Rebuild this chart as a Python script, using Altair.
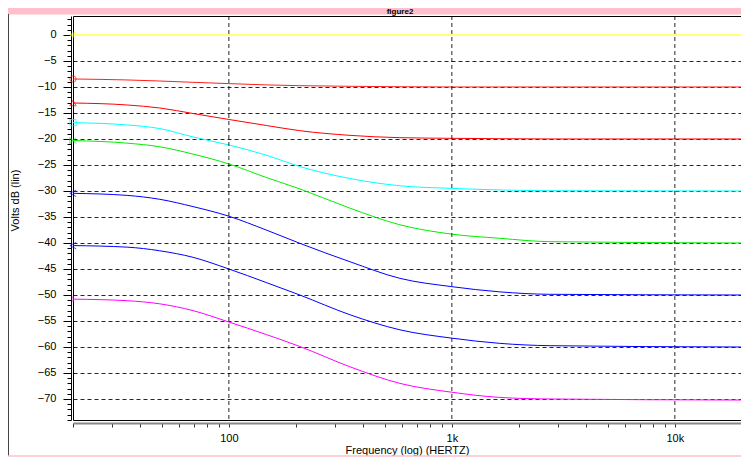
import altair as alt
import pandas as pd

# ---- data ----
freqs = [20, 35, 49, 69, 100, 147, 208, 349, 585, 1000, 1640, 2760, 19800]
yellow = [0, 0, 0, 0, 0, 0, 0, 0, 0, 0, 0, 0, 0]
red1 = [-8.46, -8.65, -8.85, -9.1, -9.35, -9.6, -9.75, -9.87, -9.95, -10.0, -10.0, -10.0, -10.0]
red2 = [-13.08, -13.46, -14.04, -15.1, -16.25, -17.4, -18.4, -19.3, -19.75, -19.87, -19.95, -20.0, -20.0]
cyan = [-16.86, -17.3, -18.0, -19.6, -21.15, -23.1, -25.3, -27.6, -29.0, -29.5, -29.8, -29.95, -30.0]
green = [-20.3, -20.8, -21.5, -22.9, -24.8, -27.4, -29.6, -33.3, -36.5, -38.3, -39.1, -39.75, -40.0]
blue1 = [-30.45, -30.85, -31.6, -33.0, -34.85, -37.5, -40.06, -43.6, -46.8, -48.4, -49.4, -49.87, -50.0]
blue2 = [-40.5, -40.8, -41.5, -42.75, -45.0, -47.6, -50.0, -53.8, -56.7, -58.3, -59.3, -59.75, -60.0]
magenta = [-50.8, -51.1, -51.7, -53.0, -55.2, -57.6, -59.9, -63.8, -67.0, -68.7, -69.7, -70.0, -70.2]

series_names = ["s1", "s2", "s3", "s4", "s5", "s6", "s7", "s8"]
series_values = [yellow, red1, red2, cyan, green, blue1, blue2, magenta]
series_colors = ["#FFFF00", "#FF2020", "#FF0000", "#00FFFF", "#00EE00", "#0000FF", "#0000FF", "#FF00FF"]
marker_shapes = [
    "M1,-1L-1,0L1,1",            # chevron
    "circle",
    "triangle-up",
    "square",
    "M-1,-1L1,1M1,-1L-1,1M-1,-1L-1,1",
    "M1,-1L-1,0L1,1",
    "M0,-1L0,1",
    "triangle-right",
]

x_ticks = [20, 30, 40, 50, 60, 70, 80, 90, 100, 200, 300, 400, 500, 600, 700, 800, 900,
           1000, 2000, 3000, 4000, 5000, 6000, 7000, 8000, 9000, 10000]
x_grid = [100, 1000, 10000]
y_ticks = list(range(-74, 4))

rows = []
for name, vals in zip(series_names, series_values):
    for f, v in zip(freqs, vals):
        rows.append({"series": name, "freq": f, "db": v})
df = pd.DataFrame(rows)

mk = pd.DataFrame({"series": series_names, "freq": [freqs[0]] * len(series_names),
                   "db": [v[0] for v in series_values], "shape": marker_shapes})

W, H = 668, 404
xscale = alt.Scale(type="log", domain=[20, 19800], nice=False)
yscale = alt.Scale(domain=[-74.04, 3.65], nice=False, zero=False)
cscale = alt.Scale(domain=series_names, range=series_colors)
FONT = "Liberation Sans"

xaxis = alt.Axis(values=x_ticks, tickCount=100, grid=False, offset=3, domainColor="#888888", domainWidth=2,
                 tickColor="#333333", tickSize=4, labelFont=FONT, labelFontSize=11,
                 labelColor="#000000", labelPadding=5, labelFlush=False, labelOverlap=False,
                 labelExpr="datum.value == 100 ? '100' : datum.value == 1000 ? '1k' : datum.value == 10000 ? '10k' : ''",
                 title="Frequency (log) (HERTZ)", titleFont=FONT, titleFontSize=11,
                 titleFontWeight="normal", titleColor="#000000", titlePadding=1)

yaxis = alt.Axis(values=y_ticks, tickCount=200, format="d", offset=2, domainColor="#000000", domainWidth=1,
                 tickColor="#000000", labelOverlap=False,
                 tickSize={"condition": {"test": "datum.value % 5 == 0", "value": 8}, "value": 4},
                 grid=True, gridColor="#000000", gridDash=[4, 3], gridWidth=1,
                 gridOpacity={"condition": {"test": "datum.value % 5 == 0 && datum.value >= -70 && datum.value < 0", "value": 0.85}, "value": 0},
                 labelExpr="datum.value % 5 == 0 && datum.value >= -70 && datum.value <= 0 ? datum.label : ''",
                 labelFont=FONT, labelFontSize=11, labelColor="#000000", labelPadding=7,
                 title="Volts dB (lin)", titleFont=FONT, titleFontSize=11, titleFontWeight="normal",
                 titleColor="#000000", titleX=-56, titleY=184, titleAlign="center", titleBaseline="middle")

base = alt.Chart(df)

lines = base.mark_line(strokeWidth=1, interpolate="monotone").encode(
    x=alt.X("freq:Q", scale=xscale, axis=xaxis),
    y=alt.Y("db:Q", scale=yscale, axis=yaxis),
    color=alt.Color("series:N", scale=cscale, legend=None),
    detail="series:N",
)

xgrid = alt.Chart(pd.DataFrame({"freq": x_grid})).mark_rule(
    color="#000000", strokeDash=[4, 3], strokeWidth=1, opacity=0.85
).encode(x=alt.X("freq:Q", scale=xscale))

markers = alt.Chart(mk).mark_point(filled=False, size=40, strokeWidth=1).encode(
    x=alt.X("freq:Q", scale=xscale),
    y=alt.Y("db:Q", scale=yscale),
    color=alt.Color("series:N", scale=cscale, legend=None),
    shape=alt.Shape("shape:N", scale=alt.Scale(domain=marker_shapes, range=marker_shapes), legend=None),
)

one = pd.DataFrame({"t": ["figure2"]})
bar = alt.Chart(one).mark_rect(color="#FFC0CB").encode(
    x=alt.value(-65), x2=alt.value(668), y=alt.value(-8), y2=alt.value(-1.5))
bar_text = alt.Chart(one).mark_text(font=FONT, fontSize=8, fontWeight="bold", color="#000000",
                                    baseline="middle").encode(
    x=alt.value(327), y=alt.value(-4.2), text="t:N")
frame_left = alt.Chart(one).mark_rule(color="#444444", strokeWidth=1).encode(
    x=alt.value(-64.5), y=alt.value(-2), y2=alt.value(440))
frame_bottom = alt.Chart(one).mark_rule(color="#FFC0CB", strokeWidth=1.5).encode(
    x=alt.value(-65), x2=alt.value(668), y=alt.value(440))

chart = alt.layer(lines, xgrid, markers, bar, bar_text, frame_left, frame_bottom).properties(
    width=W, height=H,
    autosize=alt.AutoSizeParams(type="none"),
    padding={"left": 65, "top": 8, "right": 0, "bottom": 41},
    background="#FFFFFF",
).configure_view(stroke="#000000", strokeWidth=1)

chart.save("out.html", embed_options={"renderer": "svg", "actions": False})
